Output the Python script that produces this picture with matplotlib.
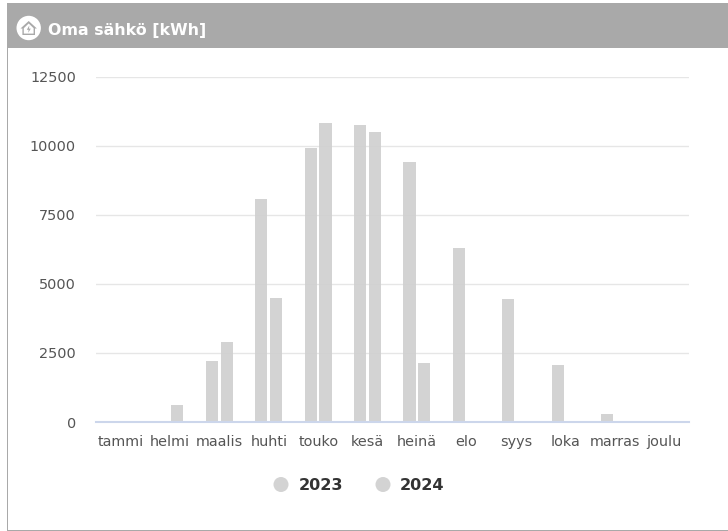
import numpy as np
import matplotlib.pyplot as plt
from matplotlib.patches import Rectangle, Circle, Polygon

W, H = 728, 531

months = ['tammi', 'helmi', 'maalis', 'huhti', 'touko', 'kesä',
          'heinä', 'elo', 'syys', 'loka', 'marras', 'joulu']
values_2023 = [20, 10, 2200, 8080, 9940, 10750, 9420, 6300, 4450, 2050, 300, 10]
values_2024 = [10, 600, 2890, 4500, 10840, 10510, 2150, 10, 10, 10, 10, 10]
yticks = [0, 2500, 5000, 7500, 10000, 12500]
years = ['2023', '2024']
title = 'Oma sähkö [kWh]'

plt.rcParams['font.family'] = ['DejaVu Sans']
fig = plt.figure(figsize=(W / 100, H / 100), dpi=100, facecolor='white')

# page layer in pixel coordinates, y pointing down
bg = fig.add_axes([0, 0, 1, 1], zorder=0)
bg.set_xlim(0, W)
bg.set_ylim(H, 0)
bg.axis('off')
bg.add_patch(Rectangle((7, 3), W - 7, 45, color='#a9a9a9', lw=0))
bg.add_patch(Rectangle((7, 3), 1, 527, color='#a9a9a9', lw=0))
bg.add_patch(Rectangle((7, 530), W - 7, 1, color='#a9a9a9', lw=0))

# house icon
bg.add_patch(Circle((28.7, 28), 12.2, color='white', lw=0))
bg.add_patch(Polygon([(20.5, 28.5), (28.7, 21), (36.9, 28.5), (35, 28.5), (35, 35),
                      (22.4, 35), (22.4, 28.5)], closed=True, color='#a9a9a9', lw=0))
bg.add_patch(Polygon([(28.7, 23.5), (33.6, 28.2), (33.6, 33.6), (23.8, 33.6),
                      (23.8, 28.2)], closed=True, color='white', lw=0))
bg.add_patch(Polygon([(29.3, 25.5), (26.8, 29.8), (28.6, 29.8), (28.2, 32.8),
                      (30.8, 28.6), (29, 28.6)], closed=True, color='#a9a9a9', lw=0))
bg.text(48, 30, title, color='white', fontsize=11.4, fontweight='bold',
        va='center', ha='left')

# legend
for cx, tx, year in zip([281, 383], [299, 400], years):
    bg.add_patch(Circle((cx, 484.5), 7.5, color='#d3d3d3', lw=0))
    bg.text(tx, 485, year, color='#333333', fontsize=11.6,
            fontweight='bold', va='center', ha='left')

ax = fig.add_axes([96 / W, 1 - 422 / H, 593 / W, 345 / H], zorder=1)
ax.patch.set_alpha(0)
x = np.arange(len(months))
bar_w = 0.245
ax.bar(x - 0.155, values_2023, bar_w, color='#d0d0d0', alpha=0.92, zorder=3)
ax.bar(x + 0.145, values_2024, bar_w, color='#d0d0d0', alpha=0.92, zorder=3)

ax.set_xlim(-0.5, 11.5)
ax.set_ylim(0, 12500)
ax.set_yticks(yticks)
ax.set_xticks(x)
ax.set_xticklabels(months, va='baseline')
ax.tick_params(axis='both', length=0, labelcolor='#555555', labelsize=10.4)
ax.tick_params(axis='x', pad=17)
ax.tick_params(axis='y', pad=14.4)
ax.grid(axis='y', color='#e6e6e6', lw=1, zorder=0)
for s in ['top', 'left', 'right']:
    ax.spines[s].set_visible(False)
ax.spines['bottom'].set_color('#ccd6eb')
ax.spines['bottom'].set_linewidth(1.5)
ax.spines['bottom'].set_zorder(4)

fig.savefig('out.png', dpi=100)
